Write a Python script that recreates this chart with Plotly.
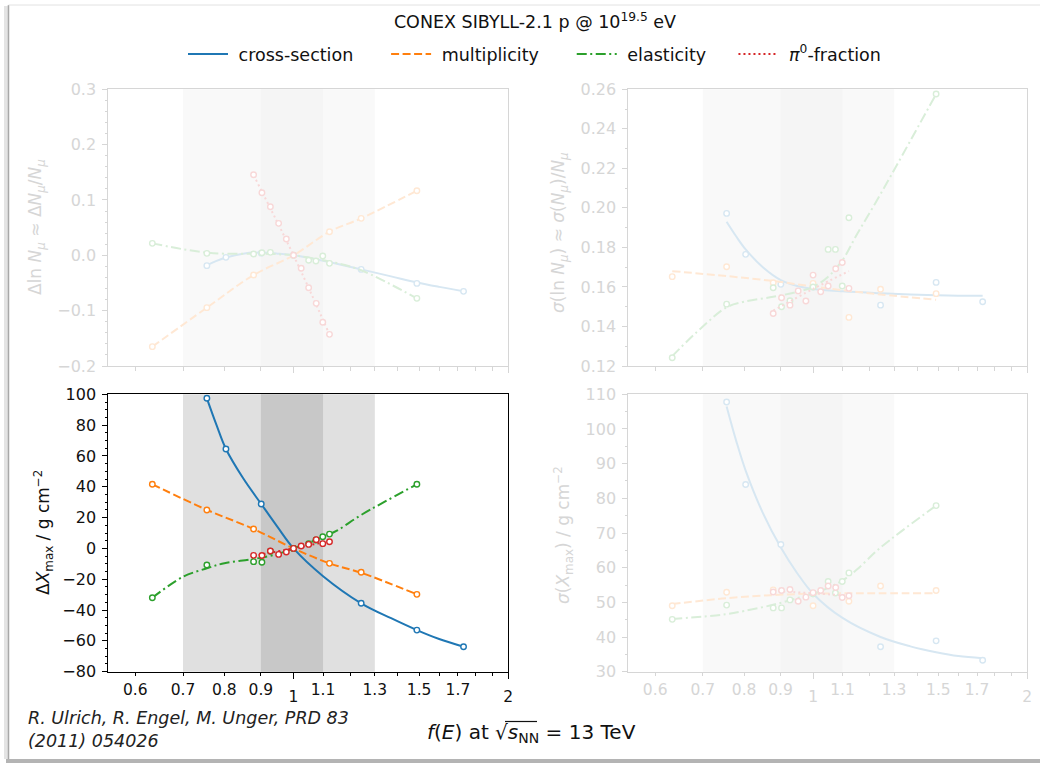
import math
import plotly.graph_objects as go

W, H = 1040, 763

# ---------------- data ----------------
series_names = ["cross-section", "multiplicity", "elasticity", "<i>π</i><sup>0</sup>-fraction"]

band_outer = [0.7, 1.3]
band_inner = [0.9, 1.1]

x_major_ticks = [1, 2]
x_major_text = ["1", "2"]
x_labeled_ticks = [0.6, 0.7, 0.8, 0.9, 1.1, 1.3, 1.5, 1.7]
x_labeled_text = ["0.6", "0.7", "0.8", "0.9", "1.1", "1.3", "1.5", "1.7"]
x_minor_ticks = [0.6, 0.7, 0.8, 0.9, 1.1, 1.2, 1.3, 1.4, 1.5, 1.6, 1.7, 1.8, 1.9]

# f values of the simulated points
f_cs = [0.756, 0.804, 0.901, 1.0, 1.244, 1.489, 1.731]
f_mult = [0.634, 0.756, 0.879, 1.0, 1.123, 1.244, 1.489]
f_elas = [0.634, 0.756, 0.879, 0.903, 0.928, 1.0, 1.05, 1.075, 1.099, 1.123, 1.489]
f_pi0 = [0.879, 0.903, 0.928, 0.953, 0.977, 1.0, 1.025, 1.05, 1.076, 1.099, 1.123]

# f values at which the fitted curves were read
fc_cs = [0.756, 0.78, 0.804, 0.85, 0.901, 0.95, 1.0, 1.1, 1.244, 1.37, 1.489, 1.6, 1.731]
fc_mult = [0.634, 0.756, 0.879, 1.0, 1.123, 1.244, 1.489]
fc_elas = [0.634, 0.7, 0.756, 0.8, 0.879, 0.95, 1.0, 1.05, 1.1, 1.15, 1.244, 1.489]
fc_pi0 = [0.879, 1.0, 1.123]

# top-left: Delta ln N_mu
tl_cs = [-0.0187, -0.0037, 0.004, 0.0, -0.0254, -0.0507, -0.0651]
tl_mult = [-0.165, -0.0946, -0.0356, 0.0, 0.0427, 0.0668, 0.1168]
tl_elas = [0.0216, 0.0036, 0.0023, 0.0047, 0.0054, 0.0, -0.009, -0.0103, -0.0013, -0.0145, -0.0778]
tl_pi0 = [0.1457, 0.1132, 0.0879, 0.0578, 0.0294, 0.0, -0.0235, -0.0585, -0.0868, -0.121, -0.1428]
tl_cs_c = [-0.018, -0.010, -0.004, 0.003, 0.005, 0.003, 0.0, -0.010, -0.0254, -0.038, -0.049, -0.057, -0.065]
tl_mult_c = [-0.165, -0.0946, -0.0356, 0.0, 0.0427, 0.0668, 0.1168]
tl_elas_c = [0.0216, 0.011, 0.005, 0.003, 0.003, 0.002, 0.0, -0.004, -0.009, -0.014, -0.027, -0.0778]
tl_pi0_c = [0.145, 0.0, -0.143]

# top-right: sigma(ln N_mu)
tr_cs = [0.1972, 0.1765, 0.1613, 0.160, 0.1508, 0.1623, 0.1525]
tr_mult = [0.1652, 0.1702, 0.1621, 0.1618, 0.1446, 0.1588, 0.1566]
tr_elas = [0.1242, 0.1513, 0.1596, 0.1500, 0.153, 0.160, 0.179, 0.179, 0.1605, 0.195, 0.2576]
tr_pi0 = [0.1466, 0.1545, 0.1508, 0.158, 0.1529, 0.166, 0.1576, 0.1605, 0.1692, 0.1724, 0.1593]
tr_cs_c = [0.193, 0.1855, 0.179, 0.170, 0.1635, 0.1605, 0.159, 0.1578, 0.1568, 0.1562, 0.1558, 0.1556, 0.1555]
tr_mult_c = [0.168, 0.1655, 0.163, 0.1602, 0.158, 0.1562, 0.1535]
tr_elas_c = [0.125, 0.140, 0.1497, 0.1525, 0.155, 0.1575, 0.160, 0.1652, 0.1736, 0.186, 0.207, 0.2576]
tr_pi0_c = [0.148, 0.159, 0.168]

# bottom-left: Delta X_max
bl_cs = [97.4, 64.5, 28.8, 0.0, -35.6, -53.0, -63.8]
bl_mult = [41.6, 24.9, 12.6, 0.0, -9.7, -15.5, -29.8]
bl_elas = [-32.0, -10.8, -8.6, -9.0, -1.8, 0.0, 3.0, 5.5, 7.6, 9.3, 41.6]
bl_pi0 = [-4.5, -4.6, -1.7, -3.9, -2.3, 0.0, 1.6, 2.6, 5.7, 3.1, 4.3]
bl_cs_c = [97.4, 80.0, 64.5, 45.5, 28.8, 13.8, 0.0, -18.0, -35.6, -45.3, -53.0, -58.8, -63.8]
bl_mult_c = [41.6, 25.0, 12.6, 0.0, -9.7, -15.8, -29.8]
bl_elas_c = [-32.0, -18.4, -12.9, -9.6, -6.9, -3.6, 0.0, 3.6, 7.4, 11.5, 21.7, 41.6]
bl_pi0_c = [-4.8, 0.0, 4.8]

# bottom-right: sigma(X_max)
br_cs = [107.8, 84.0, 66.7, 52.5, 37.2, 38.9, 33.3]
br_mult = [49.0, 52.9, 53.6, 49.0, 50.3, 54.7, 53.4]
br_elas = [45.1, 49.2, 48.4, 48.4, 50.7, 52.5, 56.0, 52.7, 56.0, 58.5, 77.9]
br_pi0 = [53.0, 53.4, 53.7, 50.3, 51.5, 52.8, 53.4, 54.7, 54.3, 51.4, 51.9]
br_cs_c = [106.5, 96.5, 88.0, 75.8, 65.8, 58.4, 52.5, 45.5, 40.0, 37.3, 35.6, 34.5, 33.9]
br_mult_c = [49.5, 51.2, 52.1, 52.5, 52.6, 52.6, 52.6]
br_elas_c = [45.2, 45.9, 46.6, 47.5, 49.3, 51.2, 52.5, 54.2, 56.3, 59.3, 65.8, 77.9]
br_pi0_c = [53.3, 52.6, 51.9]

# ---------------- styling ----------------
COLORS = ["#1f77b4", "#ff7f0e", "#2ca02c", "#d62728"]
DASHES = ["solid", "8px,3.5px", "10px,3.5px,2px,3.5px", "2px,3px"]
LEGEND_PAD = [5, 5, 4, 0]
PT_X = [f_cs, f_mult, f_elas, f_pi0]
CV_X = [fc_cs, fc_mult, fc_elas, fc_pi0]
FADE = 0.18
FONT = "DejaVu Sans"
NB = "\u00a0"


def fade(hexcol, a):
    h = hexcol.lstrip("#")
    r, g, b = (int(h[i:i + 2], 16) for i in (0, 2, 4))
    f = lambda c: round(255 - a * (255 - c))
    return f"rgb({f(r)},{f(g)},{f(b)})"


def px2x(p):
    return p / W


def px2y(p):
    return 1 - p / H


LEFT = [px2x(108.3), px2x(508.3)]
RIGHT = [px2x(628.3), px2x(1027.3)]
TOP = [px2y(366.0), px2y(89.3)]
BOT = [px2y(671.7), px2y(394.3)]
XRANGE = [math.log10(0.55), math.log10(2.0)]

panels = [
    dict(n="", xd=LEFT, yd=TOP, faded=True, bottom=False, yr=[-0.2, 0.3], dt=0.1, mdt=0.02, fmt=".1f",
         pts=[tl_cs, tl_mult, tl_elas, tl_pi0], cv=[tl_cs_c, tl_mult_c, tl_elas_c, tl_pi0_c],
         title="Δln <i>N</i><sub><i>μ</i></sub> ≈ Δ<i>N</i><sub><i>μ</i></sub>/<i>N</i><sub><i>μ</i></sub>",
         tpos=(37, 227)),
    dict(n="2", xd=RIGHT, yd=TOP, faded=True, bottom=False, yr=[0.12, 0.26], dt=0.02, mdt=0.01, fmt=".2f",
         pts=[tr_cs, tr_mult, tr_elas, tr_pi0], cv=[tr_cs_c, tr_mult_c, tr_elas_c, tr_pi0_c],
         title="<i>σ</i>(ln <i>N</i><sub><i>μ</i></sub>) ≈ <i>σ</i>(<i>N</i><sub><i>μ</i></sub>)/<i>N</i><sub><i>μ</i></sub>",
         tpos=(559, 233)),
    dict(n="3", xd=LEFT, yd=BOT, faded=False, bottom=True, yr=[-80, 100], dt=20, mdt=5, fmt="d",
         pts=[bl_cs, bl_mult, bl_elas, bl_pi0], cv=[bl_cs_c, bl_mult_c, bl_elas_c, bl_pi0_c],
         title="Δ<i>X</i><sub>max</sub> / g cm<sup>−2</sup>", tpos=(43, 533)),
    dict(n="4", xd=RIGHT, yd=BOT, faded=True, bottom=True, yr=[30, 110], dt=10, mdt=5, fmt="d",
         pts=[br_cs, br_mult, br_elas, br_pi0], cv=[br_cs_c, br_mult_c, br_elas_c, br_pi0_c],
         title="<i>σ</i>(<i>X</i><sub>max</sub>) / g cm<sup>−2</sup>", tpos=(563, 535)),
]

fig = go.Figure()
layout = dict(shapes=[], annotations=[])
overlay_id = 5

for p in panels:
    n = p["n"]
    xa, ya = "x" + n, "y" + n
    a = FADE if p["faded"] else 1.0
    axcol = fade("#000000", 0.16) if p["faded"] else "#000000"
    lblcol = fade("#000000", 0.16) if p["faded"] else "#111111"
    light = fade("#e0e0e0", a)
    dark = fade("#c8c8c8", a)

    layout["xaxis" + n] = dict(
        domain=p["xd"], anchor=ya, type="log", range=XRANGE,
        tickmode="array", tickvals=x_major_ticks, ticktext=x_major_text,
        ticks="outside", ticklen=6, tickwidth=1, tickcolor=axcol, ticklabelstandoff=5,
        showticklabels=p["bottom"], tickfont=dict(family=FONT, size=15.5, color=lblcol),
        showline=True, linecolor=axcol, linewidth=1, mirror=True,
        showgrid=False, zeroline=False,
        minor=dict(tickmode="array", tickvals=x_minor_ticks, ticks="outside", ticklen=3.5,
                   tickwidth=1, tickcolor=axcol, showgrid=False),
    )
    layout["yaxis" + n] = dict(
        domain=p["yd"], anchor=xa, range=p["yr"], tickmode="linear", tick0=0, dtick=p["dt"],
        tickformat=p["fmt"], ticks="outside", ticklen=5, tickwidth=1, tickcolor=axcol,
        tickfont=dict(family=FONT, size=16, color=lblcol), ticklabelstandoff=3,
        showline=True, linecolor=axcol, linewidth=1, mirror=True, showgrid=False, zeroline=False,
        minor=dict(dtick=p["mdt"], ticks="outside", ticklen=2.5, tickwidth=1, tickcolor=axcol, showgrid=False),
    )
    if p["bottom"]:
        oid = str(overlay_id)
        overlay_id += 1
        layout["xaxis" + oid] = dict(
            overlaying=xa, anchor=ya, side="bottom", type="log", range=XRANGE,
            tickmode="array", tickvals=x_labeled_ticks, ticktext=x_labeled_text,
            ticks="outside", ticklen=3.5, tickwidth=1, tickcolor=axcol,
            tickfont=dict(family=FONT, size=15.5, color=lblcol),
            showline=False, showgrid=False, zeroline=False,
        )
        fig.add_trace(go.Scatter(x=[1.0], y=[p["yr"][0] - 1000], xaxis="x" + oid, yaxis=ya,
                                 mode="markers", showlegend=False, hoverinfo="skip",
                                 marker=dict(size=1, opacity=0)))

    # shaded bands
    for band, col in ((band_outer, light), (band_inner, dark)):
        layout["shapes"].append(dict(type="rect", xref=xa, yref=ya + " domain", x0=band[0], x1=band[1],
                                     y0=0, y1=1, fillcolor=col, line=dict(width=0), layer="below"))

    # series
    for i in range(4):
        col = fade(COLORS[i], a)
        fig.add_trace(go.Scatter(
            x=CV_X[i], y=p["cv"][i], xaxis=xa, yaxis=ya, mode="lines",
            line=dict(color=col, width=2, dash=DASHES[i], shape="spline", smoothing=1.0),
            name=NB + series_names[i] + NB * LEGEND_PAD[i], showlegend=(n == "3"), hoverinfo="skip"))
        fig.add_trace(go.Scatter(
            x=PT_X[i], y=p["pts"][i], xaxis=xa, yaxis=ya, mode="markers",
            marker=dict(symbol="circle", size=5.5, color="white", line=dict(color=col, width=1.4)),
            showlegend=False, hoverinfo="skip"))

    layout["annotations"].append(dict(
        text=p["title"], x=px2x(p["tpos"][0]), y=px2y(p["tpos"][1]), xref="paper", yref="paper",
        xanchor="center", yanchor="middle", textangle=-90, showarrow=False,
        font=dict(family=FONT, size=17, color=lblcol)))

# x label and citation
layout["annotations"].append(dict(
    text="<i>f</i>(<i>E</i>) at √<i>s</i><sub>NN</sub> = 13 TeV", x=px2x(531), y=px2y(733),
    xref="paper", yref="paper", xanchor="center", yanchor="middle", showarrow=False,
    font=dict(family=FONT, size=20, color="#111111")))
layout["annotations"].append(dict(
    text="<i>R. Ulrich, R. Engel, M. Unger, PRD 83<br>(2011) 054026</i>", x=px2x(26), y=px2y(729),
    xref="paper", yref="paper", xanchor="left", yanchor="middle", align="left", showarrow=False,
    font=dict(family=FONT, size=17.5, color="#222222")))

# card frame and radical bar of the x label
layout["shapes"] += [
    dict(type="rect", xref="paper", yref="paper", x0=px2x(4), x1=px2x(8), y0=px2y(759), y1=px2y(6),
         fillcolor="#e4e4e4", line=dict(width=0), layer="above"),
    dict(type="line", xref="paper", yref="paper", x0=px2x(8.5), x1=px2x(8.5), y0=px2y(759), y1=px2y(5),
         line=dict(color="#a8a8a8", width=1.5), layer="above"),
    dict(type="line", xref="paper", yref="paper", x0=px2x(8.5), x1=1, y0=px2y(5), y1=px2y(5),
         line=dict(color="#e2e2e2", width=1), layer="above"),
    dict(type="rect", xref="paper", yref="paper", x0=px2x(6), x1=1, y0=0, y1=px2y(759),
         fillcolor="#b4b4b4", line=dict(width=0), layer="above"),
    dict(type="line", xref="paper", yref="paper", x0=px2x(505), x1=px2x(537), y0=px2y(721.5), y1=px2y(721.5),
         line=dict(color="#111111", width=1.2), layer="above"),
]

fig.update_layout(
    width=W, height=H, autosize=False,
    margin=dict(l=0, r=0, t=0, b=0, autoexpand=False),
    paper_bgcolor="white", plot_bgcolor="rgba(0,0,0,0)",
    title=dict(text="CONEX SIBYLL-2.1 p @ 10<sup>19.5</sup> eV", x=px2x(535), y=px2y(22),
               xanchor="center", yanchor="middle", xref="paper", yref="container",
               font=dict(family=FONT, size=17.5, color="#111111")),
    legend=dict(orientation="h", x=px2x(183), y=px2y(54), xanchor="left", yanchor="middle",
                font=dict(family=FONT, size=17.5, color="#111111"), bgcolor="rgba(0,0,0,0)",
                itemwidth=40, traceorder="normal"),
    **layout,
)

fig.write_html("out.html")
